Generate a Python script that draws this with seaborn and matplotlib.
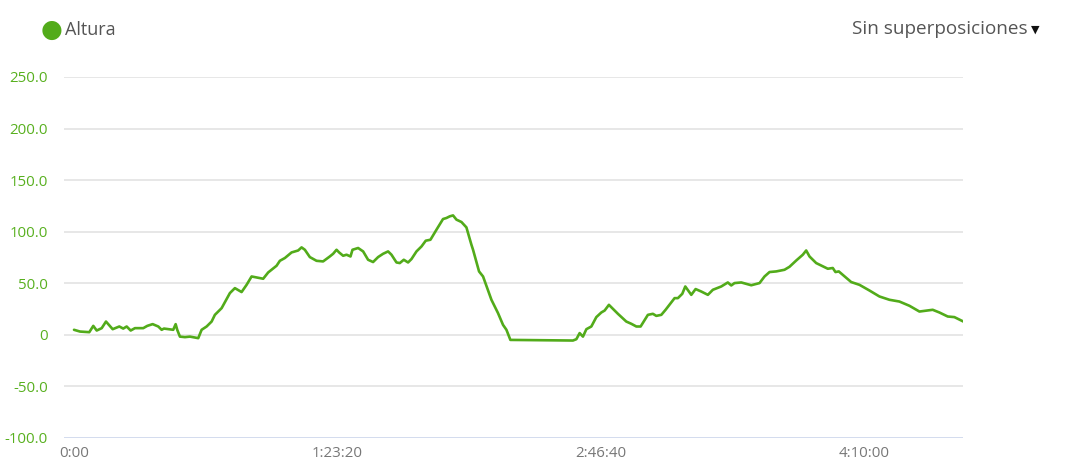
import pandas as pd
import matplotlib.pyplot as plt
import seaborn as sns
from matplotlib.ticker import FixedLocator, FuncFormatter

tiempo_s = [0, 114, 290, 366, 431, 526, 607, 734, 860, 935, 1000, 1076, 1157, 1315,
            1391, 1493, 1600, 1664, 1708, 1884, 1930, 1960, 2011, 2106, 2201, 2359,
            2423, 2518, 2613, 2675, 2803, 2960, 3055, 3182, 3277, 3372, 3592, 3687,
            3846, 3909, 4004, 4131, 4256, 4321, 4383, 4478, 4605, 4730, 4857, 4920,
            4985, 5034, 5110, 5175, 5250, 5288, 5395, 5490, 5584, 5679, 5774, 5869,
            5964, 6028, 6123, 6186, 6262, 6343, 6408, 6503, 6598, 6679, 6768, 6882,
            7007, 7072, 7135, 7197, 7262, 7357, 7451, 7546, 7577, 7691, 7767, 7926,
            8051, 8146, 8211, 8286, 9474, 9539, 9601, 9664, 9729, 9823, 9918, 10013,
            10076, 10157, 10328, 10487, 10583, 10678, 10759, 10897, 10992, 11057,
            11152, 11233, 11404, 11467, 11550, 11607, 11689, 11721, 11803, 11911,
            12036, 12131, 12290, 12415, 12480, 12542, 12670, 12860, 13017, 13112,
            13207, 13334, 13491, 13586, 13714, 13839, 13903, 13966, 14093, 14313,
            14408, 14459, 14522, 14757, 14915, 15104, 15294, 15484, 15673, 15863,
            16053, 16305, 16432, 16590, 16717, 16888]
altura_m = [4.9, 3.2, 2.6, 8.7, 4.2, 6.5, 12.9, 5.5, 8.1, 6.1, 8.1, 4.2, 6.5, 6.5,
            8.7, 10.4, 8.1, 4.9, 6.1, 4.9, 10.4, 4.9, -1.7, -2.2, -1.7, -3.2,
            4.9, 8.1, 12.9, 19.4, 25.9, 40.5, 45.3, 41.5, 48.5, 56.6, 54.4, 60.5,
            67.0, 71.8, 74.5, 79.9, 81.8, 84.8, 82.5, 75.4, 71.8, 71.2, 76.0, 78.6,
            82.5, 79.9, 76.7, 77.7, 76.0, 82.5, 84.2, 80.9, 72.8, 70.6, 75.4, 78.6,
            80.9, 77.7, 70.2, 69.6, 72.8, 70.2, 73.5, 80.9, 85.7, 91.3, 92.2, 101.9,
            112.3, 113.3, 114.9, 115.8, 111.7, 109.4, 104.2, 87.4, 82.5, 61.5, 56.6, 34.0,
            21.1, 9.7, 4.9, -4.9, -5.5, -4.2, 1.7, -1.7, 5.5, 8.1, 17.2, 21.7,
            23.6, 29.1, 20.4, 12.9, 10.7, 8.1, 8.1, 19.4, 20.4, 18.4,
            19.4, 24.3, 35.6, 35.6, 39.8, 46.9, 41.1, 38.8, 44.4, 42.0,
            38.8, 43.7, 46.9, 50.8, 47.9, 50.2, 50.8, 48.1, 50.2, 56.6,
            60.9, 61.5, 63.1, 66.0, 72.1, 77.7, 81.8, 76.0, 69.6, 64.1,
            64.8, 60.9, 61.5, 51.2, 48.5, 43.0, 37.2, 34.0, 32.3, 28.2,
            22.6, 24.3, 21.7, 17.8, 17.2, 12.9]

y_ticks = [-100, -50, 0, 50, 100, 150, 200, 250]
x_ticks = [0, 5000, 10000, 15000]
x_labels = ['0:00', '1:23:20', '2:46:40', '4:10:00']

verde = '#52ab1a'

sns.set_theme(style="white")
plt.rcParams['font.family'] = ['Open Sans', 'DejaVu Sans']

df = pd.DataFrame({'tiempo': tiempo_s, 'altura': altura_m})

fig = plt.figure(figsize=(10.65, 4.75), dpi=100)
ax = fig.add_axes([0.0601, 0.0779, 0.8441, 0.7600])

sns.lineplot(data=df, x='tiempo', y='altura', color=verde, linewidth=1.9, ax=ax)

ax.set_xlim(-190, 16880)
ax.set_ylim(-100, 250)

# Rejilla horizontal estilo web
for v in y_ticks:
    col = '#ccd6eb' if v == -100 else '#e3e3e3'
    ax.axhline(v, color=col, linewidth=1.2, zorder=0)

for s in ax.spines.values():
    s.set_visible(False)

ax.yaxis.set_major_locator(FixedLocator(y_ticks))
ax.yaxis.set_major_formatter(FuncFormatter(lambda v, p: '0' if v == 0 else f'{v:.1f}'))
ax.xaxis.set_major_locator(FixedLocator(x_ticks))
ax.set_xticklabels(x_labels)
ax.tick_params(axis='y', length=0, pad=11.5, labelsize=10.8, labelcolor='#58b01f')
ax.tick_params(axis='x', length=0, pad=6, labelsize=10.8, labelcolor='#777777')
ax.set_xlabel('')
ax.set_ylabel('')

# Leyenda y selector
fig.text(0.0488, 0.937, '\u25cf', color=verde, fontsize=18, ha='center', va='center')
fig.text(0.061, 0.937, 'Altura', color='#555555', fontsize=13, ha='left', va='center')
fig.text(0.9645, 0.939, 'Sin superposiciones', color='#555555', fontsize=13.6,
         ha='right', va='center')
fig.text(0.9685, 0.938, '\u25bc', color='#111111', fontsize=8, ha='left', va='center',
         family=['DejaVu Sans'])

plt.savefig('out.png', dpi=100)
plt.close()
